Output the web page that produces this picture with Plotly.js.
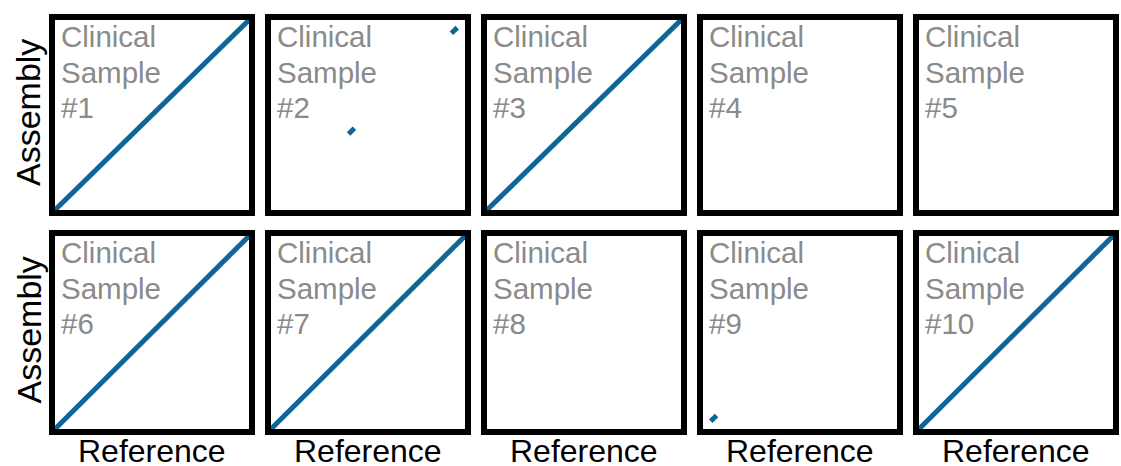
<!DOCTYPE html>
<html>
<head>
<meta charset="utf-8">
<script src="https://cdn.plot.ly/plotly-3.0.1.min.js"></script>
<style>html,body{margin:0;padding:0;background:#fff;}#chart{width:1121px;height:466px;}</style>
</head>
<body>
<div id="chart"></div>
<script>
// Sample labels
const sampleLabels = ["#1", "#2", "#3", "#4", "#5", "#6", "#7", "#8", "#9", "#10"];
const labelLines = ["Clinical", "Sample"];
// Alignment segments (positions in % of genome length)
const segSample   = [0, 1, 1, 2, 5, 6, 8, 9];
const segRefStart = [0, 40, 93, 0, 0, 0, 4, 0];
const segRefEnd   = [100, 43, 96, 100, 100, 100, 7, 100];
const segAsmStart = [0, 40, 93, 0, 0, 0, 4, 0];
const segAsmEnd   = [100, 43, 96, 100, 100, 100, 7, 100];
const xTitle = "Reference";
const yTitle = "Assembly";

const W = 1121, H = 466;
const nCols = 5, nRows = 2;
const colX0 = 55, colPitch = 216, colW = 194;
const rowTop = [20, 236], rowBot = [210, 429];
const lineColor = "#0e6597";
const FONT = "Liberation Sans, Arial, sans-serif";

const layout = {
  width: W, height: H,
  margin: {l: 0, r: 0, t: 0, b: 0},
  paper_bgcolor: "#fff", plot_bgcolor: "#fff",
  showlegend: false,
  annotations: [],
  font: {family: FONT}
};
const data = [];

for (let i = 0; i < sampleLabels.length; i++) {
  const r = Math.floor(i / nCols), c = i % nCols;
  const n = i + 1;
  const xa = n === 1 ? "xaxis" : "xaxis" + n;
  const ya = n === 1 ? "yaxis" : "yaxis" + n;
  const xr = n === 1 ? "x" : "x" + n;
  const yr = n === 1 ? "y" : "y" + n;
  const x0 = colX0 + c * colPitch;
  const axCommon = {
    range: [0, 100], showgrid: false, zeroline: false, showticklabels: false,
    ticks: "", showline: true, mirror: true, linewidth: 6, linecolor: "#000",
    fixedrange: true
  };
  layout[xa] = Object.assign({}, axCommon, {domain: [x0 / W, (x0 + colW) / W], anchor: yr});
  layout[ya] = Object.assign({}, axCommon, {domain: [1 - rowBot[r] / H, 1 - rowTop[r] / H], anchor: xr});

  for (let k = 0; k < segSample.length; k++) {
    if (segSample[k] !== i) continue;
    data.push({
      type: "scatter", mode: "lines",
      x: [segRefStart[k], segRefEnd[k]],
      y: [segAsmStart[k], segAsmEnd[k]],
      xaxis: xr, yaxis: yr,
      line: {color: lineColor, width: 5},
      hoverinfo: "skip"
    });
  }
  if (!data.some(d => d.xaxis === xr)) {
    data.push({type: "scatter", mode: "lines", x: [], y: [], xaxis: xr, yaxis: yr});
  }

  const lines = labelLines.concat([sampleLabels[i]]);
  lines.forEach((t, j) => {
    layout.annotations.push({
      text: t,
      xref: xr + " domain", yref: yr + " domain",
      x: 0, y: 1, xanchor: "left", yanchor: "top", align: "left",
      xshift: 4, yshift: 2 - j * 35.5,
      showarrow: false,
      font: {size: 29.5, color: "#8a8a8a", family: FONT}
    });
  });
  if (r === nRows - 1) {
    layout.annotations.push({
      text: xTitle, xref: "paper", yref: "paper",
      x: (x0 + colW / 2) / W, y: 1 - 451 / H, xanchor: "center", yanchor: "middle",
      showarrow: false, font: {size: 32, color: "#000", family: FONT}
    });
  }
  if (c === 0) {
    layout.annotations.push({
      text: yTitle, xref: "paper", yref: "paper",
      x: 28 / W, y: 1 - ((rowTop[r] + rowBot[r]) / 2 - 2) / H, xanchor: "center", yanchor: "middle",
      textangle: -90, showarrow: false, font: {size: 34, color: "#000", family: FONT}
    });
  }
}

Plotly.newPlot("chart", data, layout, {displayModeBar: false, staticPlot: true});
</script>
</body>
</html>
